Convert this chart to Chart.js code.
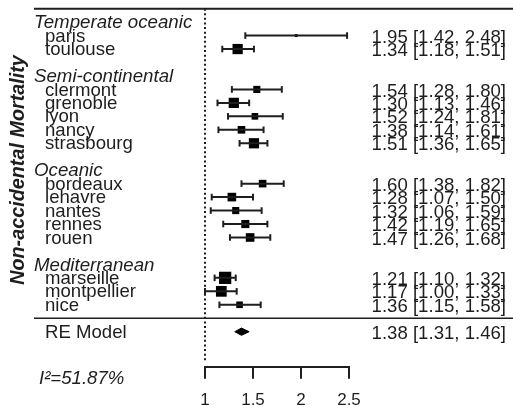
<!DOCTYPE html>
<html>
<head>
<meta charset="utf-8">
<script src="https://cdn.jsdelivr.net/npm/chart.js@4.4.0/dist/chart.umd.min.js"></script>
<style>
  html, body { margin: 0; padding: 0; background: #fff; }
  #forest { display: block; }
</style>
</head>
<body>
<canvas id="forest" width="513" height="406"></canvas>
<script>
// climate zones, then the cities in plot order (cityZone points into zones)
const zones = ["Temperate oceanic", "Semi-continental", "Oceanic", "Mediterranean"];
const cities = ["paris", "toulouse", "clermont", "grenoble", "lyon", "nancy", "strasbourg",
  "bordeaux", "lehavre", "nantes", "rennes", "rouen", "marseille", "montpellier", "nice"];
const cityZone = [0, 0, 1, 1, 1, 1, 1, 2, 2, 2, 2, 2, 3, 3, 3];

// relative risk with 95% CI
const estimates = [1.95, 1.34, 1.54, 1.30, 1.52, 1.38, 1.51, 1.60, 1.28, 1.32, 1.42, 1.47, 1.21, 1.17, 1.36];
const lower = [1.42, 1.18, 1.28, 1.13, 1.24, 1.14, 1.36, 1.38, 1.07, 1.06, 1.19, 1.26, 1.10, 1.00, 1.15];
const upper = [2.48, 1.51, 1.80, 1.46, 1.81, 1.61, 1.65, 1.82, 1.50, 1.59, 1.65, 1.68, 1.32, 1.33, 1.58];
const weights = [2.4, 8.2, 5.7, 8.2, 5.3, 6.1, 8.2, 6.1, 6.9, 5.7, 6.5, 6.9, 9.8, 8.6, 5.3];

// random effects model
const pooled = [1.38, 1.31, 1.46]; // estimate, lower, upper
const i2 = 51.87;

const xTicks = [1, 1.5, 2, 2.5];

// styling
const FONT = "'Liberation Sans', Arial, sans-serif";
const INK = "#1e1e1e";
const squarePx = 1.25; // px of square side per % weight

// work out the row of every line (metafor style: header, cities, blank line)
const headerRows = [];
const cityRows = [];
let row = 1;
zones.forEach((z, zi) => {
  headerRows.push(row++);
  cities.forEach((c, i) => {
    if (cityZone[i] === zi) cityRows[i] = row++;
  });
  row++;
});
const sepRow = row - 1;
const reRow = row;
const axisRow = reRow + 2.6;

const ciData = [];
cities.forEach((c, i) => {
  ciData.push({ x: lower[i], y: cityRows[i] });
  ciData.push({ x: upper[i], y: cityRows[i] });
  ciData.push({ x: null, y: null });
});

const dh = 0.27;
const diamond = [
  { x: pooled[1], y: reRow },
  { x: pooled[0], y: reRow - dh },
  { x: pooled[2], y: reRow },
  { x: pooled[0], y: reRow + dh },
  { x: pooled[1], y: reRow },
];

const fmt = (v) => v.toFixed(2);

const forestText = {
  id: "forestText",
  afterDraw(chart) {
    const { ctx } = chart;
    const y = chart.scales.y;
    ctx.save();
    ctx.strokeStyle = INK;
    ctx.fillStyle = INK;

    // top rule and separator above the model row
    ctx.lineWidth = 2;
    ctx.beginPath();
    ctx.moveTo(34, y.getPixelForValue(0));
    ctx.lineTo(513, y.getPixelForValue(0));
    ctx.stroke();
    ctx.lineWidth = 1.6;
    ctx.beginPath();
    ctx.moveTo(34, y.getPixelForValue(sepRow));
    ctx.lineTo(513, y.getPixelForValue(sepRow));
    ctx.stroke();

    ctx.textBaseline = "middle";
    ctx.textAlign = "left";
    ctx.font = "italic 18.7px " + FONT;
    zones.forEach((z, zi) => ctx.fillText(z, 34, y.getPixelForValue(headerRows[zi]) + 1));

    ctx.font = "18.6px " + FONT;
    cities.forEach((c, i) => ctx.fillText(c, 45, y.getPixelForValue(cityRows[i]) + 1));
    ctx.fillText("RE Model", 45, y.getPixelForValue(reRow) + 1);

    ctx.textAlign = "right";
    cities.forEach((c, i) => {
      const s = fmt(estimates[i]) + " [" + fmt(lower[i]) + ", " + fmt(upper[i]) + "]";
      ctx.fillText(s, 506, y.getPixelForValue(cityRows[i]) + 2);
    });
    ctx.fillText(fmt(pooled[0]) + " [" + fmt(pooled[1]) + ", " + fmt(pooled[2]) + "]", 506, y.getPixelForValue(reRow) + 2);

    ctx.textAlign = "left";
    ctx.font = "italic 18.6px " + FONT;
    ctx.fillText("I²=" + i2.toFixed(2) + "%", 39, y.getPixelForValue(axisRow) + 12);

    // y title
    ctx.translate(19, 170);
    ctx.rotate(-Math.PI / 2);
    ctx.textAlign = "center";
    ctx.font = "bold italic 19.8px " + FONT;
    ctx.fillText("Non-accidental Mortality", 0, 0);
    ctx.restore();
  },
};

new Chart(document.getElementById("forest"), {
  type: "scatter",
  data: {
    datasets: [
      {
        // reference line at 1
        data: [{ x: 1, y: 0 }, { x: 1, y: axisRow - 0.3 }],
        showLine: true,
        borderColor: INK,
        borderWidth: 2,
        borderDash: [2, 2.6],
        pointRadius: 0,
        clip: false,
      },
      {
        data: ciData,
        showLine: true,
        spanGaps: false,
        borderColor: INK,
        borderWidth: 2,
        pointStyle: "line",
        rotation: 90,
        pointRadius: 3.3,
        pointBorderWidth: 2,
        pointBorderColor: INK,
        clip: false,
      },
      {
        data: cities.map((c, i) => ({ x: estimates[i], y: cityRows[i] })),
        pointStyle: "rect",
        pointRadius: weights.map((w) => (w * squarePx) / Math.SQRT2),
        backgroundColor: "#000",
        borderWidth: 0,
        clip: false,
      },
      {
        data: diamond,
        showLine: true,
        fill: "shape",
        backgroundColor: "#000",
        borderColor: "#000",
        borderWidth: 1,
        pointRadius: 0,
        clip: false,
      },
    ],
  },
  options: {
    responsive: false,
    animation: false,
    layout: { padding: { left: 205, right: 164, top: 8, bottom: 0 } },
    plugins: { legend: { display: false }, tooltip: { enabled: false } },
    scales: {
      x: {
        type: "linear",
        min: 1,
        max: 2.5,
        afterBuildTicks: (axis) => {
          axis.ticks = xTicks.map((v) => ({ value: v }));
        },
        afterFit: (axis) => {
          axis.height = 39.3;
        },
        grid: { drawOnChartArea: false, tickLength: 12, color: INK, lineWidth: 2 },
        border: { display: true, color: INK, width: 2 },
        ticks: {
          color: INK,
          padding: 11,
          font: { family: FONT, size: 17 },
          callback: (v) => String(v),
        },
      },
      y: { type: "linear", reverse: true, min: 0, max: axisRow, display: false },
    },
  },
  plugins: [forestText],
});
</script>
</body>
</html>
